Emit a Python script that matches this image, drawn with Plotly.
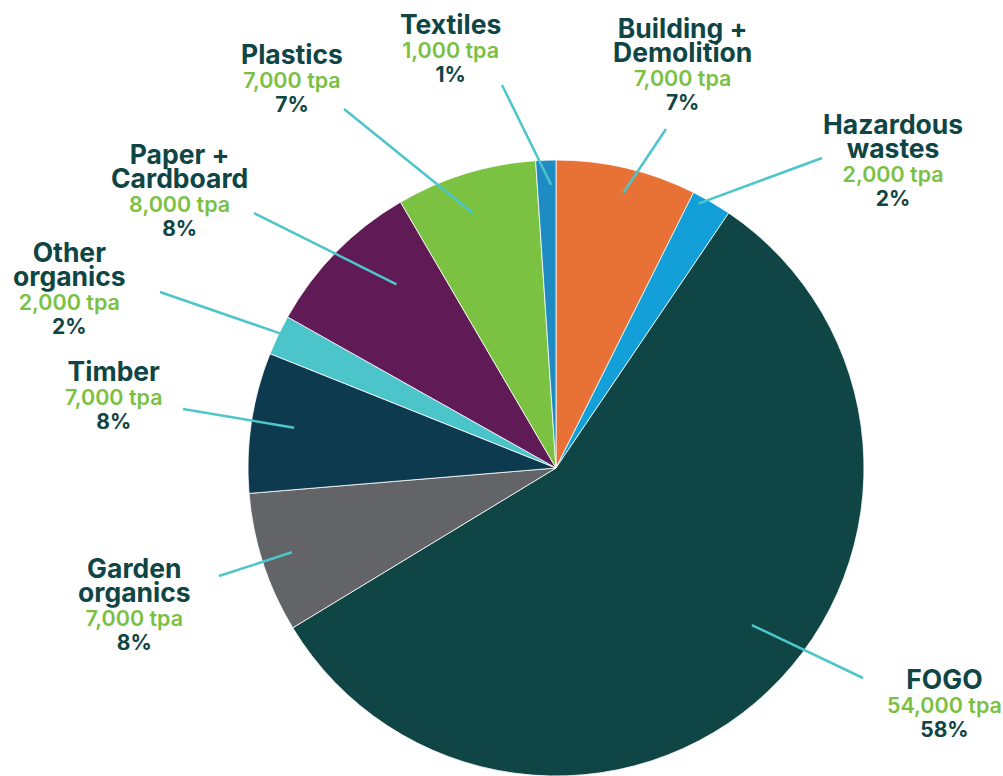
import math
import plotly.graph_objects as go

# Waste streams, clockwise from 12 o'clock
streams = ["Building +<br>Demolition", "Hazardous<br>wastes", "FOGO", "Garden<br>organics",
           "Timber", "Other<br>organics", "Paper +<br>Cardboard", "Plastics", "Textiles"]
tonnes = [7000, 2000, 54000, 7000, 7000, 2000, 8000, 7000, 1000]
tpa_text = ["7,000 tpa", "2,000 tpa", "54,000 tpa", "7,000 tpa", "7,000 tpa",
            "2,000 tpa", "8,000 tpa", "7,000 tpa", "1,000 tpa"]
share_text = ["7%", "2%", "58%", "8%", "8%", "2%", "8%", "7%", "1%"]

slice_colors = ["#E87135", "#139FD8", "#0F4545", "#636467", "#0D3A4F",
                "#4BC4CA", "#601A56", "#7CC242", "#1E8BC3"]

W, H = 1003, 776
DARK = "#0F4545"
GREEN = "#7AC143"
LEADER = "#4CC5CB"
FONT = "Inter"

# Pie placement (pixels)
CX, CY, R = 556.0, 468.0, 308.0

# Label layout: text centre x, centre y of the first line,
# and leader line (angle nudge, radius fraction, outer end point)
label_layout = [
    dict(x=682, y=29.5, leader=(0.5, 0.92, 666, 129)),
    dict(x=893, y=125.5, leader=(-2.0, 0.975, 822, 158)),
    dict(x=944, y=679.5, leader=(-7.7, 0.815, 863, 678)),
    dict(x=134, y=569.0, leader=(0.3, 0.90, 219, 576)),
    dict(x=114, y=372.0, leader=(0.2, 0.86, 183, 409)),
    dict(x=69, y=253.0, leader=(0.5, 0.985, 160, 292)),
    dict(x=179, y=155.0, leader=(4.5, 0.79, 254, 213)),
    dict(x=292, y=55.0, leader=(-1.0, 0.87, 344, 109)),
    dict(x=450, y=25.0, leader=(0.9, 0.92, 502, 85)),
]

NAME_STYLE = "font-size:26.5px;font-weight:700"
TPA_STYLE = f"font-size:21.5px;font-weight:600;color:{GREEN}"
PCT_STYLE = "font-size:21px;font-weight:700"
BASE_SIZE = 18.5          # sets the 1.3em line pitch (~24 px)
TOP_OFFSET = 19.0         # first-line centre to text-box top


def px(x, y):
    return x / W, 1 - y / H


fig = go.Figure()
fig.add_trace(go.Pie(
    labels=[s.replace("<br>", " ") for s in streams],
    values=tonnes,
    sort=False,
    direction="clockwise",
    rotation=0,
    textinfo="none",
    hoverinfo="label+value+percent",
    marker=dict(colors=slice_colors, line=dict(color="white", width=0.8)),
    domain=dict(x=[(CX - R) / W, (CX + R) / W], y=[0, 2 * R / H]),
    showlegend=False,
))

total = sum(tonnes)
shapes, annotations = [], []
cum = 0.0
for name, val, tpa, share, lay in zip(streams, tonnes, tpa_text, share_text, label_layout):
    mid = (cum + val / 2) / total * 360.0
    cum += val
    nudge, frac, ex, ey = lay["leader"]
    ang = math.radians(mid + nudge)
    sx = CX + frac * R * math.sin(ang)
    sy = CY - frac * R * math.cos(ang)
    x0, y0 = px(sx, sy)
    x1, y1 = px(ex, ey)
    shapes.append(dict(type="line", xref="paper", yref="paper", x0=x0, y0=y0, x1=x1, y1=y1,
                       line=dict(color=LEADER, width=2.5), layer="above"))

    parts = [f"<span style='{NAME_STYLE}'>{p}</span>" for p in name.split("<br>")]
    parts.append(f"<span style='{TPA_STYLE}'>{tpa}</span>")
    parts.append(f"<span style='{PCT_STYLE}'>{share}</span>")
    ax, ay = px(lay["x"], lay["y"] - TOP_OFFSET)
    annotations.append(dict(
        x=ax, y=ay, xref="paper", yref="paper", text="<br>".join(parts), showarrow=False,
        xanchor="center", yanchor="top", align="center",
        font=dict(family=FONT, size=BASE_SIZE, color=DARK),
    ))

fig.update_layout(
    width=W, height=H,
    margin=dict(l=0, r=0, t=0, b=0, pad=0),
    paper_bgcolor="white",
    plot_bgcolor="white",
    shapes=shapes,
    annotations=annotations,
)

fig.write_html("out.html")
